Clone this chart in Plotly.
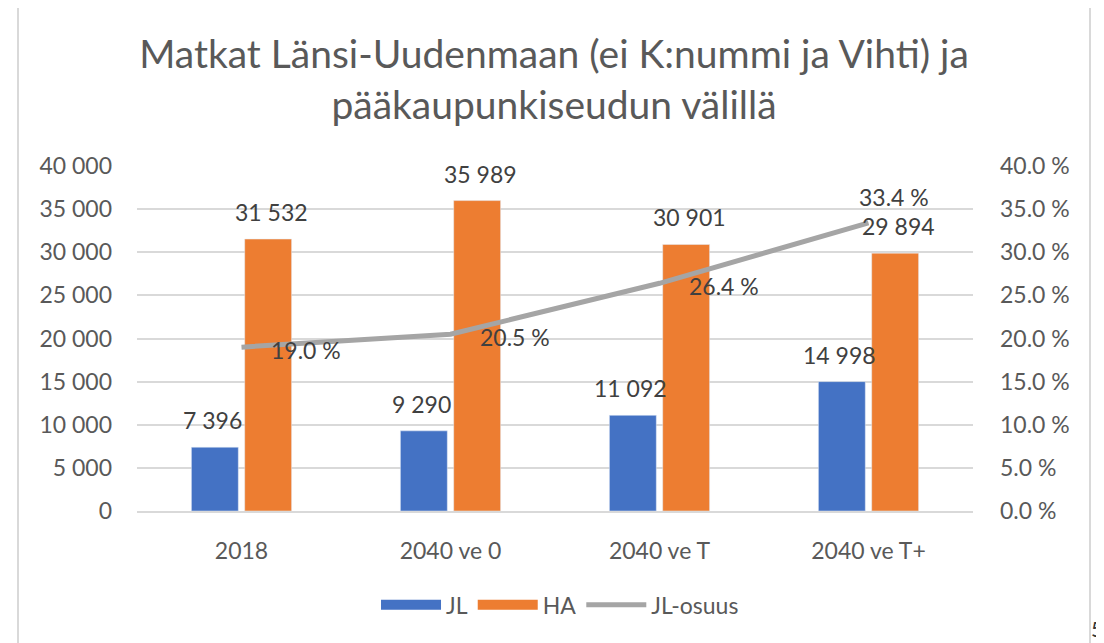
import plotly.graph_objects as go

categories = ["2018", "2040 ve 0", "2040 ve T", "2040 ve T+"]
jl_values = [7396, 9290, 11092, 14998]
ha_values = [31532, 35989, 30901, 29894]
jl_share = [19.0, 20.5, 26.4, 33.4]  # percent
left_ticks = [0, 5000, 10000, 15000, 20000, 25000, 30000, 35000, 40000]
right_ticks = [0, 5, 10, 15, 20, 25, 30, 35, 40]
right_ticktext = [f"{v:.1f} %" for v in right_ticks]

FONT = "Lato"
TXT = "#595959"
LBL = "#404040"
BLUE = "#4472C4"
ORANGE = "#ED7D31"
GRAY = "#A5A5A5"
FS = 23

fig = go.Figure()
fig.add_trace(go.Bar(x=categories, y=jl_values, name="JL", marker_color=BLUE,
                     yaxis="y", showlegend=False))
fig.add_trace(go.Bar(x=categories, y=ha_values, name="HA", marker_color=ORANGE,
                     yaxis="y", showlegend=False))
fig.add_trace(go.Scatter(x=categories, y=jl_share, name="JL-osuus", mode="lines",
                         line=dict(color=GRAY, width=5), yaxis="y2", showlegend=False))
# legend entries (wide swatches like the reference)
for name, col, w in [("JL", BLUE, 14), ("HA", ORANGE, 14), ("JL-osuus", GRAY, 5)]:
    fig.add_trace(go.Scatter(x=[None], y=[None], name=name, mode="lines",
                             line=dict(color=col, width=w), yaxis="y"))

def fmt_thousands(v):
    return f"{v:,}".replace(",", " ")

annotations = []
for i, v in enumerate(jl_values):
    annotations.append(dict(x=i, y=v, xref="x", yref="y", text=fmt_thousands(v),
                            showarrow=False, xshift=-29, yshift=27,
                            font=dict(family=FONT, size=FS, color=LBL)))
for i, v in enumerate(ha_values):
    annotations.append(dict(x=i, y=v, xref="x", yref="y", text=fmt_thousands(v),
                            showarrow=False, xshift=30, yshift=27,
                            font=dict(family=FONT, size=FS, color=LBL)))
for i, v in enumerate(jl_share):
    if i < len(jl_share) - 1:
        annotations.append(dict(x=i, y=v, xref="x", yref="y2", text=f"{v:.1f} %",
                                showarrow=False, xanchor="left", xshift=27, yshift=-3,
                                font=dict(family=FONT, size=FS, color=LBL)))
    else:
        annotations.append(dict(x=i, y=v, xref="x", yref="y2", text=f"{v:.1f} %",
                                showarrow=False, xanchor="center", xshift=25, yshift=26,
                                font=dict(family=FONT, size=FS, color=LBL)))

annotations.append(dict(x=(1097 - 137) / 836, y=(511 - 628) / 345, xref="paper", yref="paper",
                        text="5", showarrow=False, xanchor="center", yanchor="middle",
                        font=dict(family=FONT, size=21, color="#333333")))

fig.update_layout(
    width=1096, height=635,
    margin=dict(l=129, r=131, t=158, b=132, pad=0),
    paper_bgcolor="white", plot_bgcolor="white",
    separators=". ",
    font=dict(family=FONT, size=FS, color=TXT),
    title=dict(text="Matkat Länsi-Uudenmaan (ei K:nummi ja Vihti) ja<br>pääkaupunkiseudun välillä",
               x=546 / 1096, xref="container", xanchor="center",
               y=1 - 60 / 635, yref="container", yanchor="middle",
               font=dict(family=FONT, size=39, color=TXT)),
    barmode="group", bargap=0.49, bargroupgap=0.12,
    xaxis=dict(type="category", range=[-0.5, len(categories) - 0.5], autorange=False,
               showgrid=False, showline=True, linecolor="#D9D9D9",
               linewidth=2, ticks="", ticklabelstandoff=18,
               tickfont=dict(family=FONT, size=FS, color=TXT)),
    yaxis=dict(range=[0, 40000], autorange=False, tickvals=left_ticks, tickformat=",d",
               showgrid=True, gridcolor="#D9D9D9", gridwidth=2, zeroline=False,
               showline=False, ticks="", ticklabelstandoff=24,
               tickfont=dict(family=FONT, size=FS, color=TXT)),
    yaxis2=dict(range=[0, 40], autorange=False, overlaying="y", side="right",
                tickvals=right_ticks, ticktext=right_ticktext, showgrid=False,
                zeroline=False, showline=False, ticks="", ticklabelstandoff=26,
                tickfont=dict(family=FONT, size=FS, color=TXT)),
    legend=dict(orientation="h", x=0.506, xanchor="center", y=-0.272, yanchor="middle",
                font=dict(family=FONT, size=FS, color=TXT), itemwidth=60,
                traceorder="normal"),
    annotations=annotations,
    shapes=[dict(type="rect", xref="paper", yref="paper",
                 x0=(18 - 137) / 836, x1=(1090 - 137) / 836,
                 y0=(511 - 660) / 345, y1=(511 - 5) / 345,
                 line=dict(color="#D9D9D9", width=2), fillcolor="rgba(0,0,0,0)",
                 layer="below")],
)

fig.write_html("out.html")
